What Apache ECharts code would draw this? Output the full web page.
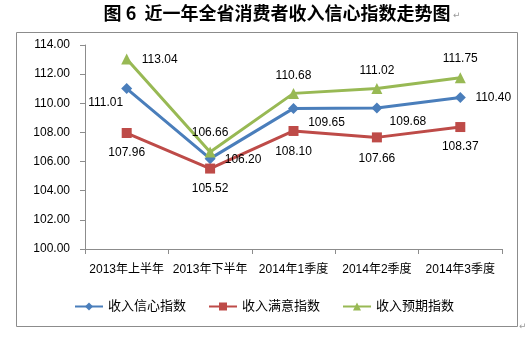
<!DOCTYPE html>
<html>
<head>
<meta charset="utf-8">
<script src="https://cdn.jsdelivr.net/npm/echarts@6/dist/echarts.min.js"></script>
<style>
  html, body { margin: 0; padding: 0; background: #fff; }
  #chart { width: 528px; height: 341px; }
</style>
</head>
<body>
<div id="chart"></div>
<script>
// Survey periods
const categories = ['2013年上半年', '2013年下半年', '2014年1季度', '2014年2季度', '2014年3季度'];

// Index values per period
const confidence = [111.01, 106.20, 109.65, 109.68, 110.40];   // 收入信心指数
const satisfaction = [107.96, 105.52, 108.10, 107.66, 108.37]; // 收入满意指数
const expectation = [113.04, 106.66, 110.68, 111.02, 111.75];  // 收入预期指数

const yTicks = { min: 100, max: 114, step: 2 };

// Label offsets (relative to each marker centre) so labels don't collide
const confOffsets = [[-21, 14], [33, 1], [33, 14], [31, 14], [33, 0]];
const satOffsets = [[0, 20], [0, 20], [0, 21], [0, 21], [0, 20]];
const expOffsets = [[33, 1], [0, -19], [0, -18], [0, -18], [0, -19]];

const FONT = '"Liberation Sans", "Noto Sans CJK SC", sans-serif';

function makeData(values, offsets) {
  return values.map((v, i) => ({
    value: v,
    label: { offset: offsets[i] }
  }));
}

const labelBase = {
  show: true,
  position: 'inside',
  align: 'center',
  verticalAlign: 'middle',
  color: '#000',
  fontSize: 12,
  fontFamily: FONT,
  formatter: p => p.value.toFixed(2)
};

function series(name, values, offsets, color, symbol, size) {
  return {
    name,
    type: 'line',
    data: makeData(values, offsets),
    symbol,
    symbolSize: size,
    lineStyle: { color, width: 3 },
    itemStyle: { color },
    label: labelBase,
    emphasis: { disabled: true },
    animation: false
  };
}

const chart = echarts.init(document.getElementById('chart'), null, { renderer: 'canvas' });
chart.setOption({
  backgroundColor: '#fff',
  animation: false,
  graphic: [
    {
      type: 'rect',
      shape: { x: 16.5, y: 32.5, width: 501, height: 294 },
      style: { fill: 'none', stroke: '#8c8c8c', lineWidth: 1 },
      silent: true
    },
    {
      type: 'text',
      x: 277, y: 13,
      style: {
        text: '图 6  近一年全省消费者收入信心指数走势图',
        fill: '#000',
        font: 'bold 18px "Noto Sans CJK SC", sans-serif',
        textAlign: 'center',
        textVerticalAlign: 'middle'
      }
    },
    {
      type: 'text',
      x: 453, y: 16,
      style: { text: '↵', fill: '#9a9a9a', font: '9px "DejaVu Sans", sans-serif', textVerticalAlign: 'middle' }
    },
    {
      type: 'text',
      x: 519, y: 327,
      style: { text: '↵', fill: '#9a9a9a', font: '9px "DejaVu Sans", sans-serif', textVerticalAlign: 'middle' }
    }
  ],
  grid: { left: 85, right: 26, top: 45, bottom: 92, containLabel: false },
  legend: {
    bottom: 23,
    left: 'center',
    itemWidth: 28,
    itemHeight: 10,
    itemGap: 22,
    textStyle: { fontSize: 13, color: '#000', fontFamily: FONT },
    data: ['收入信心指数', '收入满意指数', '收入预期指数']
  },
  xAxis: {
    type: 'category',
    data: categories,
    boundaryGap: true,
    axisLine: { lineStyle: { color: '#8c8c8c' } },
    axisTick: { show: true, length: 5, lineStyle: { color: '#8c8c8c' } },
    axisLabel: { color: '#000', fontSize: 12, fontFamily: FONT, margin: 15, interval: 0 }
  },
  yAxis: {
    type: 'value',
    min: yTicks.min,
    max: yTicks.max,
    interval: yTicks.step,
    axisLine: { show: true, lineStyle: { color: '#8c8c8c' } },
    axisTick: { show: true, length: 5, lineStyle: { color: '#8c8c8c' } },
    splitLine: { show: false },
    axisLabel: { color: '#000', fontSize: 12, fontFamily: FONT, margin: 15, formatter: v => v.toFixed(2) }
  },
  series: [
    series('收入信心指数', confidence, confOffsets, '#4A7EBB', 'diamond', 11),
    series('收入满意指数', satisfaction, satOffsets, '#BE4B48', 'rect', 10),
    series('收入预期指数', expectation, expOffsets, '#98B954', 'triangle', 11)
  ]
});
</script>
</body>
</html>
